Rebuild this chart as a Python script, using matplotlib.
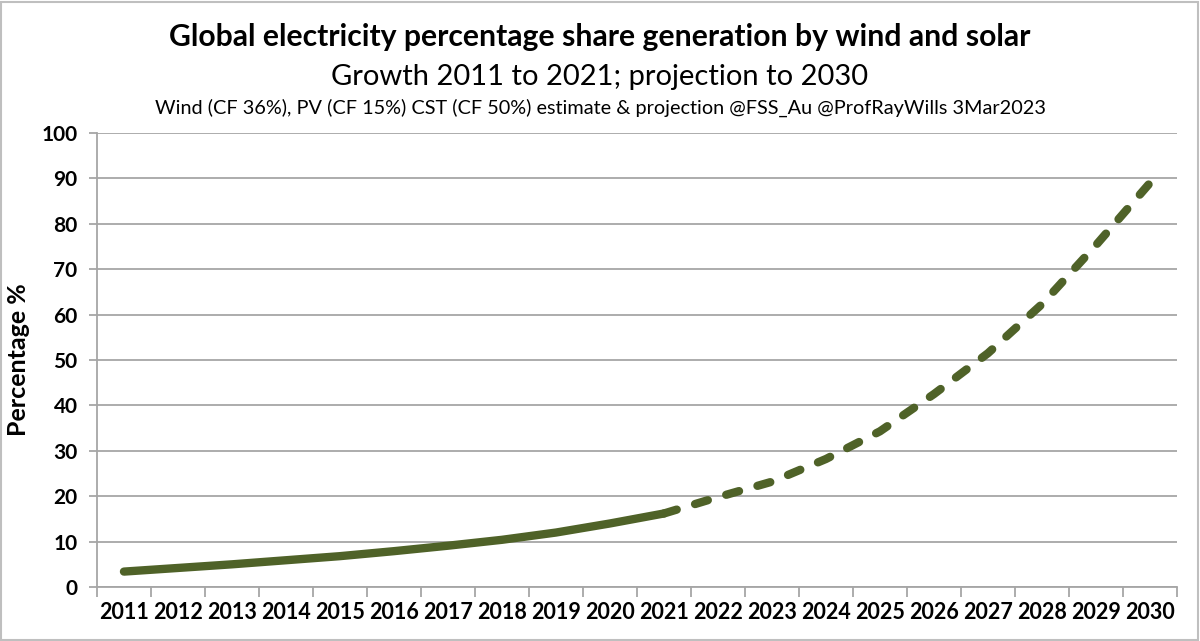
import numpy as np
import matplotlib
matplotlib.use("Agg")
import matplotlib.pyplot as plt
from matplotlib.patches import Rectangle

# values
years = [str(y) for y in range(2011, 2031)]
actual = [3.4, 4.2, 5.0, 5.9, 6.8, 7.9, 9.1, 10.4, 12.0, 14.0, 16.2]  # 2011-2021
projection = [16.2, 19.8, 23.2, 28.2, 34.3, 42.5, 51.5, 62.3, 75.3, 89.0]  # 2021-2030

title = "Global electricity percentage share generation by wind and solar"
subtitle = "Growth 2011 to 2021; projection to 2030"
note = "Wind (CF 36%), PV (CF 15%) CST (CF 50%) estimate & projection @FSS_Au @ProfRayWills 3Mar2023"

plt.rcParams['font.family'] = ['Lato', 'DejaVu Sans']
green = '#4f6228'
grid_grey = '#a6a6a6'

fig = plt.figure(figsize=(12, 6.41), dpi=100)
ax = fig.add_axes([0.0808, 0.0842, 0.9, 0.7083])

x_act = np.arange(len(actual))
x_proj = np.arange(len(actual) - 1, len(years))

ax.plot(x_act, actual, color=green, lw=6, solid_capstyle='round',
        solid_joinstyle='round', zorder=3)
ax.plot(x_proj, projection, color=green, lw=6, linestyle=(0, (1.6, 2.3)),
        dash_capstyle='round', dash_joinstyle='round', zorder=3)

ax.set_xlim(-0.5, len(years) - 0.5)
ax.set_ylim(0, 100)
ax.set_yticks(np.arange(0, 101, 10))
ax.yaxis.grid(True, color=grid_grey, lw=1.3)
ax.set_axisbelow(True)

# boundaries get tick marks, centres get the labels
ax.set_xticks(np.arange(-0.5, len(years), 1.0))
ax.set_xticklabels([])
ax.set_xticks(np.arange(len(years)), minor=True)
ax.set_xticklabels(years, minor=True, fontsize=15.5, fontweight='bold')
ax.tick_params(axis='x', which='major', length=7, width=1.3, color=grid_grey, direction='out')
ax.tick_params(axis='x', which='minor', length=0, pad=11)
ax.tick_params(axis='y', length=6, width=1.3, color=grid_grey, labelsize=15, pad=8)
for lbl in ax.get_yticklabels():
    lbl.set_fontweight('bold')

for s in ['top', 'right']:
    ax.spines[s].set_visible(False)
for s in ['left', 'bottom']:
    ax.spines[s].set_color(grid_grey)
    ax.spines[s].set_linewidth(1.3)

ax.set_ylabel('Percentage %', fontsize=18, fontweight='bold', labelpad=8)

fig.text(0.5, 0.942, title, ha='center', va='center', fontsize=21.7, fontweight='bold')
fig.text(0.5, 0.880, subtitle, ha='center', va='center', fontsize=21)
fig.text(0.5, 0.832, note, ha='center', va='center', fontsize=14.3)

fig.patches.append(Rectangle((0.001, 0.002), 0.997, 0.995, transform=fig.transFigure,
                             fill=False, edgecolor='#bfbfbf', lw=1.5))

fig.savefig('out.png', dpi=100)
